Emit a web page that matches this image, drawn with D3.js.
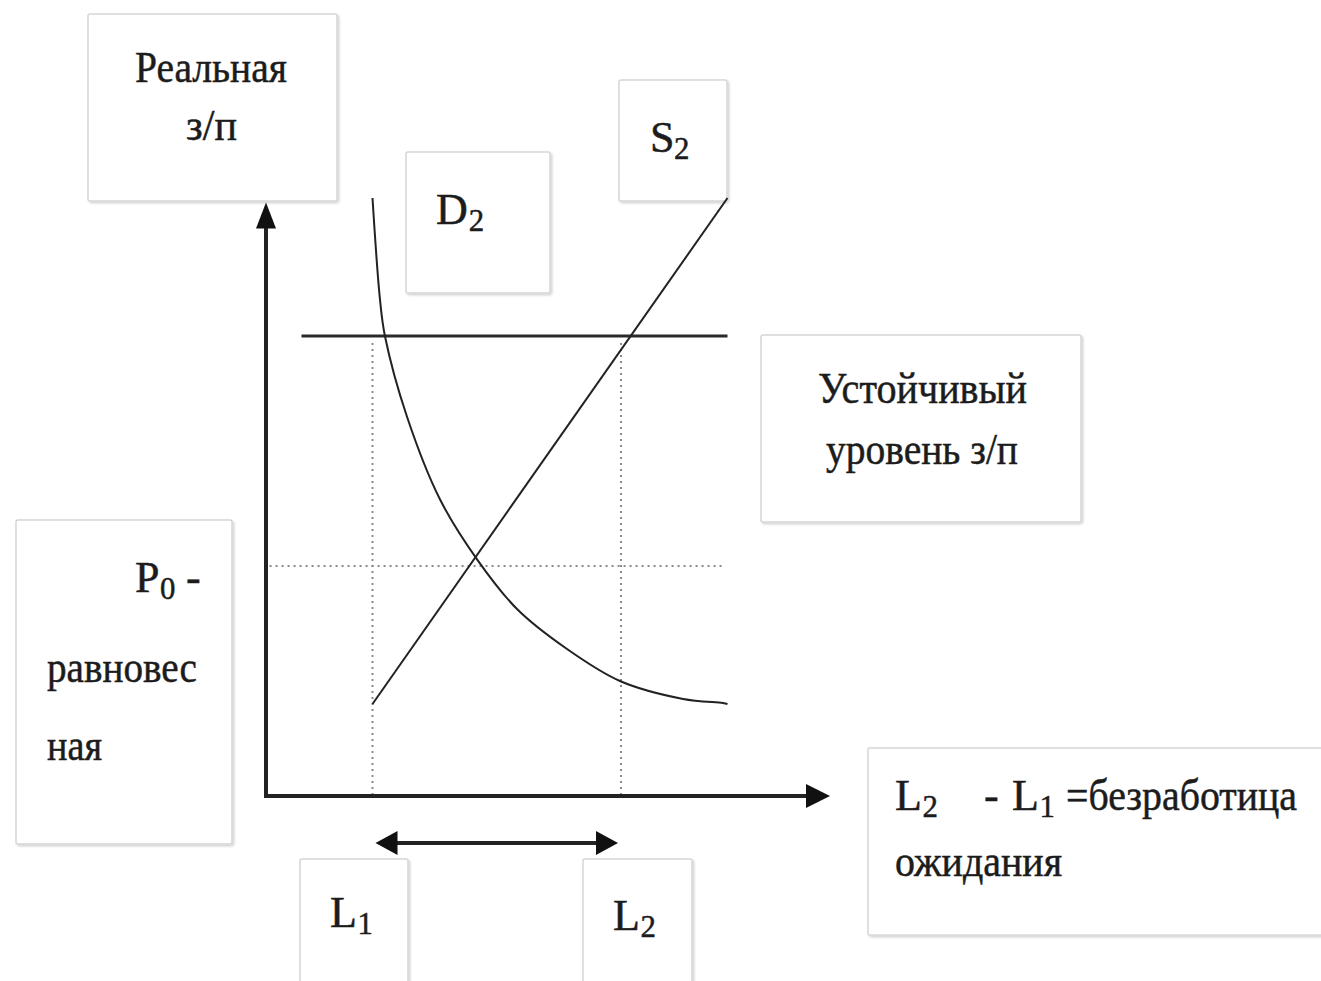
<!DOCTYPE html>
<html><head><meta charset="utf-8">
<script src="https://cdn.jsdelivr.net/npm/d3@7"></script>
<style>html,body{margin:0;padding:0;background:#fff;overflow:hidden}</style>
</head><body>
<svg id="c" width="1321" height="981"></svg>
<script>
// ---- data (quantity of labour, real wage) ----
const demandQ = [3, 3.21, 3.35, 3.97, 4.9, 5.94, 7.07, 8.48, 9.97, 11.75, 12.87, 13];
const demandW = [26, 21.6, 20, 16.5, 12.9, 10.3, 8.13, 6.39, 5, 4.22, 4.04, 4];
const supplyQ = [3, 13];
const supplyW = [4, 26];
const stableWage = 20;
const stableRangeQ = [1, 13];
const equilibriumWage = 10;
const equilibriumRangeQ = [0.1, 12.85];
const labourLevels = [3, 10];           // L1, L2
const axisExtentQ = 16;
const axisExtentW = 25.8;

// ---- labels ----
const labelReal = ["Реальная", "з/п"];
const labelS = ["S", "2"];
const labelD = ["D", "2"];
const labelStable = ["Устойчивый", "уровень з/п"];
const labelP0 = ["P", "0", "-", "равновес", "ная"];
const labelUnemp = ["L", "2", "-", "L", "1", "=безработица", "ожидания"];
const labelL1 = ["L", "1"];
const labelL2 = ["L", "2"];

const svg = d3.select("#c");
const x = d3.scaleLinear().domain([0, 16]).range([266, 834]);
const y = d3.scaleLinear().domain([0, 26]).range([796, 198]);

const defs = svg.append("defs");
const f = defs.append("filter").attr("id", "sh").attr("x", "-5%").attr("y", "-5%").attr("width", "115%").attr("height", "115%");
f.append("feDropShadow").attr("dx", 1.5).attr("dy", 1.5).attr("stdDeviation", 1.2).attr("flood-color", "#000").attr("flood-opacity", 0.18);

const FONT = "'Liberation Serif','Times New Roman',serif";
const ink = "#1c1c1c";
const FS = 44;

function box(x0, y0, x1, y1) {
  svg.append("rect").attr("x", x0).attr("y", y0).attr("width", x1 - x0).attr("height", y1 - y0)
    .attr("fill", "#fff").attr("stroke", "#d6d6d6").attr("stroke-width", 1.5).attr("rx", 2)
    .attr("filter", "url(#sh)");
}
function txt(s, x0, base, size, x1) {
  const t = svg.append("text").attr("x", x0).attr("y", base)
    .attr("font-family", FONT).attr("font-size", size).attr("fill", ink)
    .attr("stroke", ink).attr("stroke-width", 0.5).text(s);
  if (x1 !== undefined) t.attr("textLength", x1 - x0).attr("lengthAdjust", "spacingAndGlyphs");
  return t;
}
// letter + subscript digit as two separate texts
function subLabel(main, sub, x0, base, size) {
  txt(main, x0, base, size);
  const w = main === "D" ? size * 0.72 : main === "S" ? size * 0.52 : size * 0.6;
  txt(sub, x0 + w + 1, base + size * 0.17, size * 0.7);
}

// boxes + labels
box(88, 14, 337, 201);
txt(labelReal[0], 135, 82, FS, 287);
txt(labelReal[1], 186, 140, FS, 237);

box(619, 80, 727, 201);
subLabel(labelS[0], labelS[1], 650, 152, FS);

box(406, 152, 550, 293);
subLabel(labelD[0], labelD[1], 436, 224, FS);

box(761, 335, 1081, 522);
txt(labelStable[0], 818, 403, FS, 1027);
txt(labelStable[1], 826, 464, FS, 1018);

box(16, 520, 232, 844);
txt(labelP0[0], 135, 592, FS);
txt(labelP0[1], 160, 599, FS * 0.7);
txt(labelP0[2], 186, 592, FS);
txt(labelP0[3], 47, 682, FS, 197);
txt(labelP0[4], 47, 760, FS, 102);

box(868, 748, 1335, 935);
subLabel(labelUnemp[0], labelUnemp[1], 895, 810, FS);
txt(labelUnemp[2], 984, 810, FS);
subLabel(labelUnemp[3], labelUnemp[4], 1012, 810, FS);
txt(labelUnemp[5], 1066, 810, FS, 1297);
txt(labelUnemp[6], 895, 876, FS, 1062);

box(300, 859, 408, 995);
subLabel(labelL1[0], labelL1[1], 330, 927, FS);
box(583, 859, 692, 995);
subLabel(labelL2[0], labelL2[1], 613, 930, FS);

// dotted guides
const dot = { stroke: "#8a8a8a", "stroke-width": 2, "stroke-dasharray": "2,4" };
function line(pts, st, curve) {
  const gen = d3.line().x(d => x(d[0])).y(d => y(d[1]));
  if (curve) gen.curve(curve);
  const p = svg.append("path").attr("d", gen(pts)).attr("fill", "none");
  Object.entries(st).forEach(([k, v]) => p.attr(k, v));
  return p;
}
labourLevels.forEach(L => line([[L, stableWage - 0.3], [L, 0]], dot));
line([[equilibriumRangeQ[0], equilibriumWage], [equilibriumRangeQ[1], equilibriumWage]], dot);

// stable wage line
line([[stableRangeQ[0], stableWage], [stableRangeQ[1], stableWage]], { stroke: "#2a2a2a", "stroke-width": 3 });

// supply
line(supplyQ.map((q, i) => [q, supplyW[i]]), { stroke: "#222", "stroke-width": 2 });
// demand
line(demandQ.map((q, i) => [q, demandW[i]]), { stroke: "#222", "stroke-width": 2 }, d3.curveCatmullRom.alpha(0.5));

// axes
const axisW = 4, axisCol = "#222";
svg.append("line").attr("x1", x(0)).attr("y1", y(0)).attr("x2", x(0)).attr("y2", y(axisExtentW) + 20)
  .attr("stroke", axisCol).attr("stroke-width", axisW);
svg.append("line").attr("x1", x(0) - 2).attr("y1", y(0)).attr("x2", x(axisExtentQ) - 20).attr("y2", y(0))
  .attr("stroke", axisCol).attr("stroke-width", axisW);
const ty = y(axisExtentW), tx = x(axisExtentQ) - 4;
svg.append("path").attr("d", `M${x(0)},${ty} L${x(0) + 10},${ty + 26} L${x(0) - 10},${ty + 26} Z`).attr("fill", "#111");
svg.append("path").attr("d", `M${tx},${y(0)} L${tx - 24},${y(0) - 12} L${tx - 24},${y(0) + 12} Z`).attr("fill", "#111");

// double arrow between L1 and L2
const ay = 843, a0 = x(labourLevels[0]) + 3, a1 = x(labourLevels[1]) - 3;
svg.append("line").attr("x1", a0 + 15).attr("y1", ay).attr("x2", a1 - 15).attr("y2", ay).attr("stroke", "#222").attr("stroke-width", 4);
svg.append("path").attr("d", `M${a0},${ay} L${a0 + 22},${ay - 12} L${a0 + 22},${ay + 12} Z`).attr("fill", "#111");
svg.append("path").attr("d", `M${a1},${ay} L${a1 - 22},${ay - 12} L${a1 - 22},${ay + 12} Z`).attr("fill", "#111");
</script>
</body></html>
